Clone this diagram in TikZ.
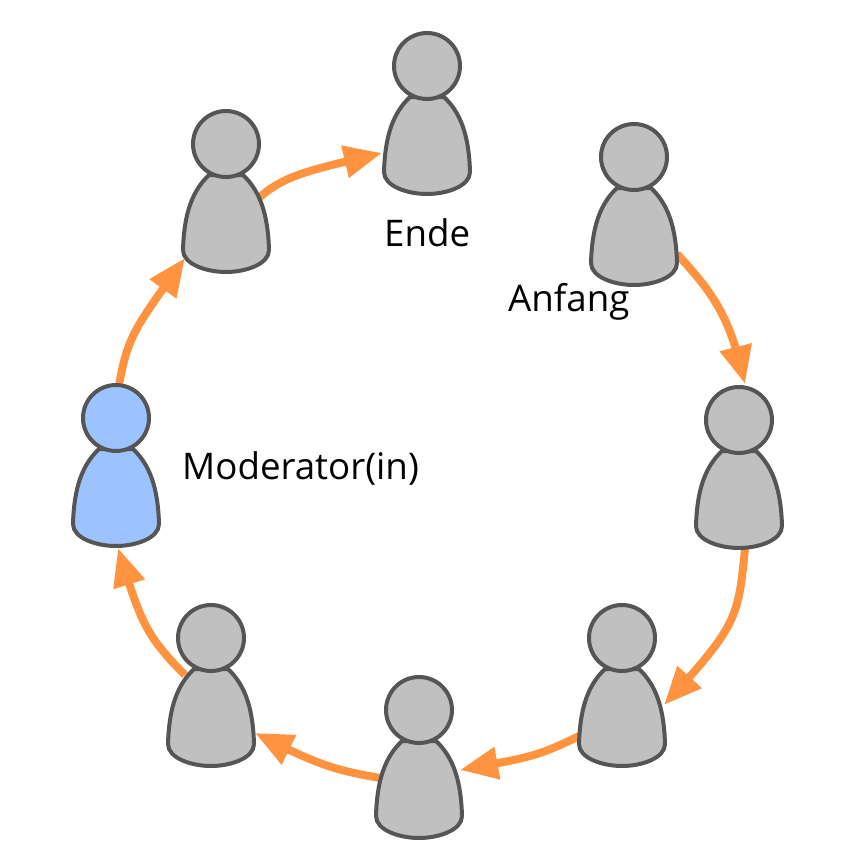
\documentclass[tikz,border=0pt]{standalone}
\usepackage{fontspec}
\setmainfont{Open Sans}
\usetikzlibrary{arrows.meta,calc,bending}
\definecolor{flow}{HTML}{FF9340}
\definecolor{edgegray}{HTML}{555555}
\definecolor{fillgray}{HTML}{C0C0C0}
\definecolor{fillblue}{HTML}{9DC3FF}
\tikzset{
  x=1pt,y=-1pt,
  flowline/.style={draw=flow,line width=8pt,-{Triangle[length=38pt,width=31pt,flex=0.9]},line cap=butt},
  caption/.style={font=\fontsize{36.7}{40}\selectfont,text=black,inner sep=0pt,anchor=base west},
  person/.pic={
    \coordinate (-c) at (0,0);
    \path[draw=edgegray,fill=\pgfkeysvalueof{/tikz/personfill},line width=4pt,line join=round]
      (-17,31) .. controls (-34,47) and (-42,70) .. (-43,106)
      .. controls (-43,120) and (-20,128) .. (0,128)
      .. controls (20,128) and (43,120) .. (43,106)
      .. controls (42,70) and (34,47) .. (17,31) -- cycle;
    \path[draw=edgegray,fill=\pgfkeysvalueof{/tikz/personfill},line width=4pt] (0,0) circle[radius=33];
  },
  personfill/.initial=fillgray
}
\begin{document}
\begin{tikzpicture}
\useasboundingbox (0,0) rectangle (855,854);
\coordinate (p1) at (634,157);
\coordinate (p2) at (739,420);
\coordinate (p3) at (622,638);
\coordinate (p4) at (419,710);
\coordinate (p5) at (211,638);
\coordinate (p6) at (116,418);
\coordinate (p7) at (226,144);
\coordinate (p8) at (427,66);
\draw[flowline] ($(p1)+(43,97)$) .. controls (712,292) and (730,315) .. ($(p2)+(6,-36)$);
\draw[flowline] ($(p2)+(6,129)$) .. controls (738,618) and (738,625) .. ($(p3)+(42,67)$);
\draw[flowline] ($(p3)+(-43,98)$) .. controls (535,758) and (525,758) .. ($(p4)+(41,60)$);
\draw[flowline] ($(p4)+(-39,68)$) .. controls (335,770) and (320,766) .. ($(p5)+(44,95)$);
\draw[flowline] ($(p5)+(-26,37)$) .. controls (145,635) and (140,620) .. ($(p6)+(2,130)$);
\draw[flowline] ($(p6)+(3,-33)$) .. controls (128,335) and (135,328) .. ($(p7)+(-41,114)$);
\draw[flowline] ($(p7)+(34,53)$) .. controls (285,175) and (310,170) .. ($(p8)+(-45,87)$);
\pic (a1) at (p1) {person};
\pic (a2) at (p2) {person};
\pic (a3) at (p3) {person};
\pic (a4) at (p4) {person};
\pic (a5) at (p5) {person};
\pic[personfill=fillblue] (a6) at (p6) {person};
\pic (a7) at (p7) {person};
\pic (a8) at (p8) {person};
\node[caption] (ende) at (384,246) {Ende};
\node[caption] (anfang) at (508,311) {Anfang};
\node[caption] (moderator) at (182,479) {Moderator(in)};
\end{tikzpicture}
\end{document}
